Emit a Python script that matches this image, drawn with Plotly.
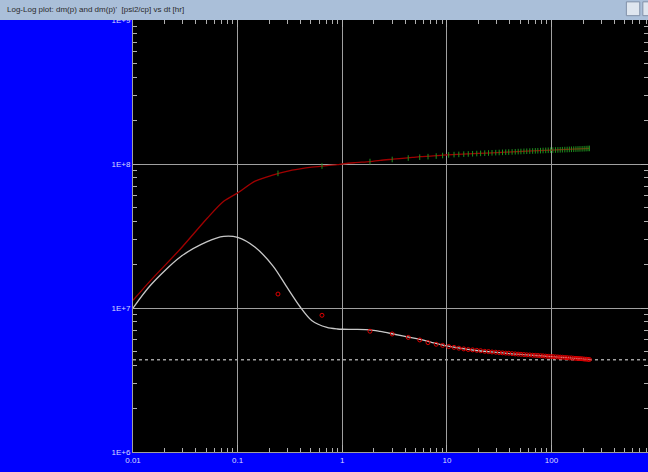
import plotly.graph_objects as go

# ---- data ----
# model curves (dm(p) and derivative), dt in hr
model_dt = [0.01, 0.0147, 0.0285, 0.0512, 0.0736, 0.1, 0.147, 0.22, 0.295, 0.395,
            0.51, 0.714, 0.9, 1.0, 1.3, 1.84, 2.3, 3.06, 4.7, 5.5, 7.0, 10, 20, 30,
            42, 100, 160, 230]
model_p = [1.13e7, 1.55e7, 2.58e7, 4.2e7, 5.51e7, 6.3e7, 7.6e7, 8.4e7, 8.9e7, 9.25e7,
           9.5e7, 9.75e7, 9.9e7, 1.0e8, 1.02e8, 1.04e8, 1.06e8, 1.08e8, 1.11e8, 1.125e8,
           1.135e8, 1.156e8, 1.185e8, 1.2e8, 1.213e8, 1.25e8, 1.268e8, 1.285e8]
model_d = [1.0e7, 1.44e7, 2.27e7, 2.89e7, 3.14e7, 3.09e7, 2.64e7, 1.94e7, 1.40e7, 1.02e7,
           8.2e6, 7.33e6, 7.15e6, 7.12e6, 7.1e6, 7.05e6, 6.87e6, 6.6e6, 6.2e6, 6.05e6,
           5.8e6, 5.45e6, 5.05e6, 4.92e6, 4.8e6, 4.6e6, 4.48e6, 4.4e6]

# measured data points
data_dt = [0.243, 0.64, 1.84, 3.0, 4.27, 5.5, 6.6, 7.9, 9.1, 10.4, 11.7, 13, 14.5, 16, 17.6,
           19.3, 21, 23, 25, 27, 29.3, 31.6, 34, 36.5, 39, 42, 45, 48, 51, 54.5, 58, 62, 66,
           70, 74, 78.5, 83, 88, 93, 98, 103, 109, 115, 121, 127, 134, 141, 148, 155, 163,
           171, 179, 187, 196, 205, 214, 223, 230]
data_p = [8.61e7, 9.68e7, 1.04e8, 1.075e8, 1.1e8, 1.115e8, 1.125e8, 1.135e8, 1.145e8, 1.156e8,
          1.162e8, 1.166e8, 1.171e8, 1.174e8, 1.178e8, 1.182e8, 1.185e8, 1.189e8, 1.192e8,
          1.196e8, 1.199e8, 1.202e8, 1.205e8, 1.208e8, 1.21e8, 1.213e8, 1.216e8, 1.219e8,
          1.221e8, 1.224e8, 1.226e8, 1.229e8, 1.231e8, 1.234e8, 1.236e8, 1.238e8, 1.241e8,
          1.243e8, 1.245e8, 1.247e8, 1.249e8, 1.251e8, 1.253e8, 1.255e8, 1.257e8, 1.259e8,
          1.261e8, 1.263e8, 1.265e8, 1.267e8, 1.269e8, 1.271e8, 1.273e8, 1.275e8, 1.277e8,
          1.279e8, 1.281e8, 1.283e8]
data_d = [1.25e7, 8.9e6, 6.9e6, 6.6e6, 6.25e6, 6.0e6, 5.75e6, 5.6e6, 5.5e6, 5.4e6, 5.33e6,
          5.26e6, 5.2e6, 5.15e6, 5.12e6, 5.08e6, 5.05e6, 5.0e6, 4.98e6, 4.95e6, 4.93e6, 4.9e6,
          4.88e6, 4.86e6, 4.85e6, 4.82e6, 4.8e6, 4.78e6, 4.77e6, 4.75e6, 4.73e6, 4.72e6,
          4.7e6, 4.69e6, 4.68e6, 4.66e6, 4.65e6, 4.63e6, 4.62e6, 4.6e6, 4.6e6, 4.58e6, 4.57e6,
          4.56e6, 4.55e6, 4.53e6, 4.52e6, 4.5e6, 4.5e6, 4.48e6, 4.47e6, 4.46e6, 4.45e6,
          4.44e6, 4.42e6, 4.41e6, 4.4e6, 4.39e6]

stab_level = 4.38e6

x_major = [0.01, 0.1, 1, 10, 100]
x_major_text = ["0.01", "0.1", "1", "10", "100"]
y_major = [1e6, 1e7, 1e8, 1e9]
y_major_text = ["1E+6", "1E+7", "1E+8", "1E+9"]
decades_x = [0.01, 0.1, 1, 10, 100]
decades_y = [1e6, 1e7, 1e8]
x_minor = [d * k for d in decades_x for k in range(2, 10)]
y_minor = [d * k for d in decades_y for k in range(2, 10)]

title_text = "Log-Log plot: dm(p) and dm(p)'  [psi2/cp] vs dt [hr]"

fig = go.Figure()
fig.add_trace(go.Scatter(x=model_dt, y=model_p, mode="lines",
                         line=dict(color="#a00000", width=1.3, shape="spline", smoothing=0.8),
                         hoverinfo="skip"))
fig.add_trace(go.Scatter(x=model_dt, y=model_d, mode="lines",
                         line=dict(color="#c8c8c8", width=1.3, shape="spline", smoothing=0.8),
                         hoverinfo="skip"))
fig.add_trace(go.Scatter(x=data_dt, y=data_p, mode="markers",
                         marker=dict(symbol="line-ns", size=4, color="#1f8f1f",
                                     line=dict(color="#1f8f1f", width=1))))
fig.add_trace(go.Scatter(x=data_dt, y=data_d, mode="markers",
                         marker=dict(symbol="circle-open", size=4, color="#e00000",
                                     line=dict(color="#e00000", width=1))))

fig.add_shape(type="line", xref="paper", x0=0, x1=1, yref="y", y0=stab_level, y1=stab_level,
              line=dict(color="#a0a0a0", width=1.5, dash="dot"), layer="below")

# title bar
fig.add_shape(type="rect", xref="paper", yref="paper", x0=-0.3, x1=1.01, y0=1.0, y1=1.06,
              fillcolor="#aabfd9", line=dict(width=0), layer="above")
fig.add_shape(type="rect", xref="paper", yref="paper", x0=0.958, x1=0.984, y0=1.01, y1=1.042,
              fillcolor="#dfe6ef", line=dict(color="#8090a8", width=1), layer="above")
fig.add_shape(type="rect", xref="paper", yref="paper", x0=0.99, x1=1.01, y0=1.01, y1=1.042,
              fillcolor="#dfe6ef", line=dict(color="#8090a8", width=1), layer="above")
fig.add_annotation(text=title_text, xref="paper", yref="paper", x=-0.248, y=1.024,
                   xanchor="left", yanchor="middle", showarrow=False,
                   font=dict(family="Liberation Sans Narrow, Liberation Sans, Arial", size=8, color="#2a2a2a"))

tickfont = dict(family="Liberation Sans Narrow, Liberation Sans, Arial", size=8, color="#d8d8ff")

fig.update_xaxes(type="log", range=[-2, 2.922], tickmode="array", tickvals=x_major,
                 ticktext=x_major_text, ticks="inside", ticklen=7, tickcolor="#b0b0b0",
                 mirror="ticks", showline=True, linecolor="#a0a0a0", linewidth=1,
                 showgrid=True, gridcolor="#a0a0a0", gridwidth=1, zeroline=False,
                 tickfont=tickfont, ticklabelstandoff=0,
                 minor=dict(tickmode="array", tickvals=x_minor, ticks="inside", ticklen=4,
                            tickcolor="#b0b0b0", showgrid=False))
fig.update_yaxes(type="log", range=[6, 9], tickmode="array", tickvals=y_major,
                 ticktext=y_major_text, ticks="inside", ticklen=7, tickcolor="#b0b0b0",
                 mirror="ticks", showline=True, linecolor="#a0a0a0", linewidth=1,
                 showgrid=True, gridcolor="#a0a0a0", gridwidth=1, zeroline=False,
                 tickfont=tickfont,
                 minor=dict(tickmode="array", tickvals=y_minor, ticks="inside", ticklen=4,
                            tickcolor="#b0b0b0", showgrid=False))

fig.update_layout(width=648, height=472, margin=dict(l=133, r=0, t=20, b=20),
                  paper_bgcolor="#0000ff", plot_bgcolor="#000000", showlegend=False)

fig.write_html("out.html", config={"displayModeBar": False},
               post_script="document.body.style.margin='0';document.body.style.overflow='hidden';")
